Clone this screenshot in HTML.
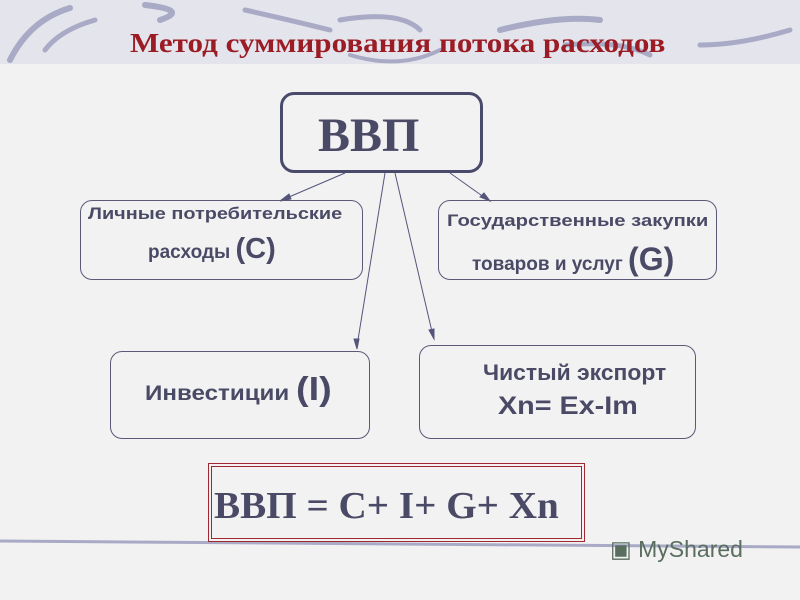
<!DOCTYPE html>
<html><head><meta charset="utf-8"><style>
body{margin:0;width:800px;height:600px;overflow:hidden;background:#f2f2f3;font-family:"Liberation Serif",serif;position:relative}
.hdr{position:absolute;left:0;top:0;width:800px;height:64px;background:#e4e4ec}
.b{position:absolute;border:1px solid #5a5a78;border-radius:12px;box-sizing:border-box;color:#4a4a66;font-family:"Liberation Sans",sans-serif;font-weight:bold}
.t{position:absolute;white-space:nowrap}
</style></head><body>
<div class="hdr"></div>
<svg width="800" height="600" style="position:absolute;left:0;top:0">
<g stroke="#a8aac6" stroke-linecap="round" fill="none">
<path d="M10 60 Q30 20 70 8" stroke-width="6"/>
<path d="M45 50 Q60 30 95 20" stroke-width="5"/>
<path d="M145 5 Q190 10 160 20" stroke-width="6"/>
<path d="M245 10 Q290 20 330 30" stroke-width="5"/>
<path d="M340 20 Q400 10 420 30" stroke-width="5"/>
<path d="M500 30 Q560 15 600 20" stroke-width="6"/>
<path d="M565 45 Q620 40 650 55" stroke-width="5"/>
<path d="M700 45 Q740 45 790 30" stroke-width="5"/>
<path d="M350 55 Q400 70 440 50" stroke-width="4"/>
<path d="M0 541 Q300 545 800 547" stroke-width="3"/>
</g>
<g stroke="#55557a" stroke-width="1" fill="#55557a">
<line x1="345" y1="173" x2="282" y2="200"/><polygon points="280,201 289,194 291,199"/>
<line x1="450" y1="173" x2="488" y2="200"/><polygon points="490,201 480,197 484,193"/>
<line x1="385" y1="173" x2="357" y2="346"/><polygon points="357,349 354,339 359,339"/>
<line x1="395" y1="173" x2="433" y2="336"/><polygon points="434,339 429,330 434,329"/>
</g>
</svg>
<div class="t" style="left:130px;top:28px;font-size:27px;font-weight:bold;color:#9b1c24;transform:scaleX(1.15);transform-origin:left">Метод суммирования потока расходов</div>
<div class="b" style="left:280px;top:92px;width:203px;height:81px;border:3px solid #4a4a6a;border-radius:14px"></div>
<div class="t" style="left:318px;top:108px;font-size:48px;font-weight:bold;color:#4a4a66;font-family:'Liberation Serif',serif">ВВП</div>
<div class="b" style="left:80px;top:200px;width:283px;height:80px"></div>
<div class="t b" style="border:none;left:88px;top:204px;font-size:17px;transform:scaleX(1.17);transform-origin:left">Личные потребительские</div>
<div class="t b" style="border:none;left:148px;top:233px;font-size:19px">расходы <span style="font-size:29px">(С)</span></div>
<div class="b" style="left:438px;top:200px;width:279px;height:80px"></div>
<div class="t b" style="border:none;left:447px;top:211px;font-size:17px;transform:scaleX(1.19);transform-origin:left">Государственные закупки</div>
<div class="t b" style="border:none;left:472px;top:241px;font-size:19px">товаров и услуг <span style="font-size:32px">(G)</span></div>
<div class="b" style="left:110px;top:351px;width:260px;height:88px"></div>
<div class="t b" style="border:none;left:145px;top:370px;font-size:21px;transform:scaleX(1.15);transform-origin:left">Инвестиции <span style="font-size:33px">(I)</span></div>
<div class="b" style="left:419px;top:345px;width:277px;height:94px"></div>
<div class="t b" style="border:none;left:483px;top:360px;font-size:22px;transform:scaleX(1.04);transform-origin:left">Чистый экспорт</div>
<div class="t b" style="border:none;left:498px;top:392px;font-size:25px;transform:scaleX(1.15);transform-origin:left">Xn= Ex-Im</div>
<div style="position:absolute;left:208px;top:463px;width:377px;height:79px;box-sizing:border-box;border:4px double #a0282e"></div>
<div class="t" style="left:214px;top:484px;font-size:38px;font-weight:bold;color:#4a4a66;transform:scaleX(1.03);transform-origin:left">ВВП = С+ I+ G+ Xn</div>
<div class="t" style="left:610px;top:536px;font-size:23px;color:#5a6e60;font-family:'Liberation Sans',sans-serif">▣ MyShared</div>
</body></html>
